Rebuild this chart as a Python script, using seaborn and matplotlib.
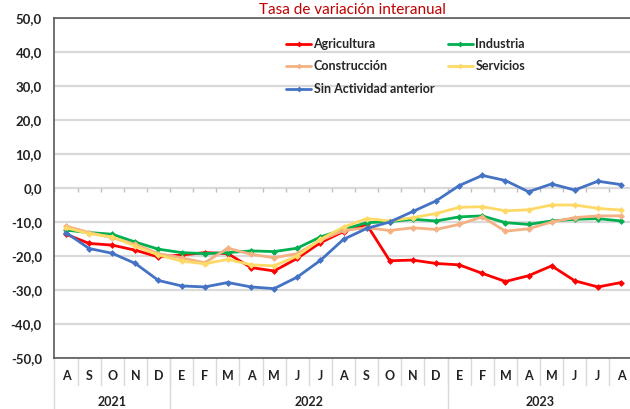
import numpy as np
import pandas as pd
import matplotlib
matplotlib.use("Agg")
import matplotlib.pyplot as plt
import seaborn as sns
from matplotlib.lines import Line2D

months = ["A", "S", "O", "N", "D", "E", "F", "M", "A", "M", "J", "J", "A",
          "S", "O", "N", "D", "E", "F", "M", "A", "M", "J", "J", "A"]
years = ["2021", "2022", "2023"]
year_spans = [(0, 4), (5, 16), (17, 24)]

agricultura = [-13.6, -16.3, -16.8, -18.3, -20.3, -19.7, -19.0, -19.3, -23.4, -24.4, -20.7, -16.1, -12.8,
               -10.7, -21.4, -21.2, -22.2, -22.6, -25.1, -27.5, -25.8, -22.9, -27.3, -29.1, -27.8]
industria = [-12.4, -13.1, -13.6, -15.9, -18.0, -19.0, -19.3, -19.0, -18.5, -18.7, -17.7, -14.4, -12.2,
             -10.2, -9.9, -9.2, -9.7, -8.5, -8.2, -10.2, -10.7, -9.7, -9.2, -9.0, -9.7]
construccion = [-11.2, -13.1, -14.6, -16.6, -19.3, -20.5, -22.0, -17.7, -19.5, -20.5, -19.3, -15.4, -12.5,
                -11.7, -12.5, -11.7, -12.2, -10.7, -8.5, -12.7, -12.0, -10.0, -8.7, -8.2, -8.2]
servicios = [-11.7, -13.4, -14.4, -17.1, -19.7, -21.5, -22.3, -21.0, -22.6, -22.9, -20.0, -15.1, -11.5,
             -9.0, -9.7, -8.7, -7.5, -5.7, -5.5, -6.7, -6.4, -5.0, -5.0, -6.0, -6.5]
sin_actividad = [-13.1, -17.8, -19.2, -22.2, -27.2, -28.8, -29.1, -27.8, -29.1, -29.6, -26.2, -21.3, -15.1,
                 -11.9, -10.0, -6.9, -3.8, 0.7, 3.7, 2.2, -1.1, 1.2, -0.6, 2.0, 1.0]

series_names = ["Agricultura", "Industria", "Construcción", "Servicios", "Sin Actividad anterior"]
series_vals = [agricultura, industria, construccion, servicios, sin_actividad]
colors = ["#FF0000", "#00B050", "#F4B183", "#FFD966", "#4472C4"]

rows = []
for name, vals in zip(series_names, series_vals):
    for i, v in enumerate(vals):
        rows.append({"pos": i, "valor": v, "serie": name})
df = pd.DataFrame(rows)

sns.set_theme(style="white")
plt.rcParams["font.family"] = ["Lato", "DejaVu Sans"]

fig = plt.figure(figsize=(6.3, 4.09), dpi=100)
W, H = 630, 409
left_px, right_px, top_px, bottom_px = 54.4, 632.6, 18, 358
ax = fig.add_axes([left_px / W, 1 - bottom_px / H, (right_px - left_px) / W, (bottom_px - top_px) / H])

ax.set_ylim(-50, 50)
ax.set_xlim(-0.5, len(months) - 0.5)
ax.set_yticks(np.arange(-50, 51, 10))
ax.set_yticklabels([f"{v:.1f}".replace(".", ",") for v in np.arange(-50, 51, 10)],
                   fontsize=9.5, fontweight="bold", color="#222222")
ax.tick_params(axis="y", length=0, pad=9)
ax.set_xticks([])
ax.yaxis.grid(True, color="#D9D9D9", linewidth=1.6)
ax.set_axisbelow(True)
for s in ["left", "top", "bottom"]:
    ax.spines[s].set_color("#595959")
    ax.spines[s].set_linewidth(1.2)
ax.spines["right"].set_visible(False)

# zero-line tick marks
ax.vlines(np.arange(-0.5, len(months)), -1.3, 0, color="#BFBFBF", linewidth=1.0, zorder=1)

sns.lineplot(data=df, x="pos", y="valor", hue="serie", hue_order=series_names,
             palette=colors, marker="D", markersize=3.5, markeredgewidth=0,
             linewidth=2.0, legend=False, ax=ax, zorder=3)
ax.set_xlabel("")
ax.set_ylabel("")

# category table below the axis
trans = ax.get_xaxis_transform()
month_bottom = -(385 - bottom_px) / (bottom_px - top_px)
year_bottom = -(H + 5 - bottom_px) / (bottom_px - top_px)
for k in range(len(months) - 1):
    ax.plot([k + 0.5, k + 0.5], [0, month_bottom], transform=trans, color="#D9D9D9",
            linewidth=1.0, clip_on=False)
for (a, b) in year_spans:
    ax.plot([a - 0.5, a - 0.5], [0, year_bottom], transform=trans, color="#D9D9D9",
            linewidth=1.0, clip_on=False)
for i, m in enumerate(months):
    ax.text(i, -(376 - bottom_px) / (bottom_px - top_px), m, transform=trans, ha="center",
            va="center", fontsize=9, fontweight="bold", color="#222222")
for y, (a, b) in zip(years, year_spans):
    ax.text((a + b) / 2, -(402 - bottom_px) / (bottom_px - top_px), y, transform=trans,
            ha="center", va="center", fontsize=9, fontweight="bold", color="#222222")

# legend
handles = [Line2D([], [], color=c, linewidth=2.0, marker="D", markersize=3, markeredgewidth=0)
           for c in colors]
order = [0, 2, 4, 1, 3]
leg = fig.legend([handles[i] for i in order], [series_names[i] for i in order],
                 ncol=2, loc="upper left", bbox_to_anchor=(286 / W, 1 - 38 / H),
                 frameon=False, borderpad=0, borderaxespad=0, handlelength=2.0,
                 handletextpad=0.2, columnspacing=1.1, labelspacing=0.84,
                 prop={"size": 9, "weight": "bold"})

fig.text(352 / W, 1 - 14 / H, "Tasa de variación interanual", ha="center", va="baseline",
         fontsize=11, color="#C00000")

fig.savefig("out.png", dpi=100)
